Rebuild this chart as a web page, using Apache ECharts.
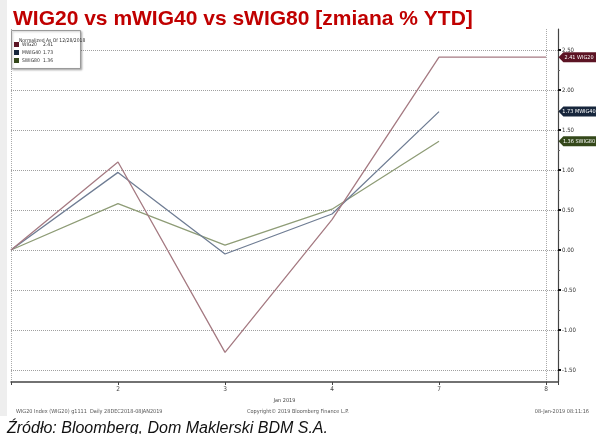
<!DOCTYPE html>
<html>
<head>
<meta charset="utf-8">
<script src="https://cdn.jsdelivr.net/npm/echarts@6/dist/echarts.min.js"></script>
<style>
html,body{margin:0;padding:0;background:#fff;}
#chart{width:596px;height:434px;}
</style>
</head>
<body>
<div id="chart"></div>
<script>
// ---- data ----
var categories = ['', '2', '3', '4', '7', '8'];
var seriesNames = ['WIG20', 'MWIG40', 'SWIG80'];
var wig20 = [0, 1.10, -1.28, 0.38, 2.41, 2.41];
var mwig40 = [0, 0.97, -0.05, 0.45, 1.73];
var swig80 = [0, 0.58, 0.06, 0.51, 1.36];
var lastValues = [2.41, 1.73, 1.36];
var yTicks = [-1.5, -1, -0.5, 0, 0.5, 1, 1.5, 2, 2.5];

// ---- style ----
var lineColors = ['#a57a82', '#6f7d94', '#8e9c76'];
var tagColors = ['#5c1424', '#17263c', '#34481a'];
var X_MAX = 5.112;
var FONT = '"Liberation Sans", Arial, sans-serif';
var SMALL = '"DejaVu Sans Condensed", "Liberation Sans Narrow", sans-serif';

function pairs(arr) { return arr.map(function (v, i) { return [i, v]; }); }

var seriesData = [wig20, mwig40, swig80];
var series = seriesData.map(function (d, k) {
  return {
    name: seriesNames[k],
    type: 'line',
    xAxisIndex: 2,
    yAxisIndex: 1,
    data: pairs(d),
    symbol: 'none',
    lineStyle: { color: lineColors[k], width: 1.3 },
    itemStyle: { color: lineColors[k] },
    z: 3 + (2 - k),
    animation: false,
    markPoint: {
      silent: true,
      animation: false,
      symbol: 'path://M0,5 L5,0 L40,0 L40,10 L5,10 Z',
      symbolSize: [39, 10],
      symbolKeepAspect: false,
      symbolOffset: [20, 0],
      itemStyle: { color: tagColors[k] },
      label: {
        show: true,
        position: 'inside',
        offset: [1, 0],
        color: '#fff',
        fontFamily: SMALL,
        fontSize: 5.5,
        formatter: function () { return lastValues[k].toFixed(2) + ' ' + seriesNames[k]; }
      },
      data: [{ coord: [X_MAX, lastValues[k]] }]
    }
  };
});

var chart = echarts.init(document.getElementById('chart'), null, { renderer: 'canvas' });
chart.setOption({
  backgroundColor: '#ffffff',
  animation: false,
  title: [
    {
      text: 'WIG20 vs mWIG40 vs sWIG80 [zmiana % YTD]',
      left: 8, top: 4,
      textStyle: { color: '#c00000', fontFamily: FONT, fontWeight: 'bold', fontSize: 21 }
    },
    {
      text: 'Normalized As Of 12/28/2018',
      left: 14, top: 33, z: 30,
      textStyle: { color: '#333', fontFamily: SMALL, fontWeight: 'normal', fontSize: 5 }
    },
    {
      text: 'WIG20 Index (WIG20) g1111  Daily 28DEC2018-08JAN2019',
      left: 11, top: 404,
      textStyle: { color: '#555', fontFamily: SMALL, fontWeight: 'normal', fontSize: 5.5 }
    },
    {
      text: 'Copyright\u00a9 2019 Bloomberg Finance L.P.',
      left: 'center', top: 404,
      textStyle: { color: '#555', fontFamily: SMALL, fontWeight: 'normal', fontSize: 5.5 }
    },
    {
      text: '08-Jan-2019 08:11:16',
      right: 2, top: 404,
      textStyle: { color: '#555', fontFamily: SMALL, fontWeight: 'normal', fontSize: 5.5 }
    },
    {
      text: '\u0179r\u00f3d\u0142o: Bloomberg, Dom Maklerski BDM S.A.',
      left: 2, top: 416,
      textStyle: { color: '#111', fontFamily: FONT, fontStyle: 'italic', fontWeight: 'normal', fontSize: 16 }
    }
  ],
  legend: {
    orient: 'vertical',
    left: 14, top: 42,
    z: 30,
    itemWidth: 5, itemHeight: 5, itemGap: 3,
    padding: 0,
    icon: 'rect',
    selectedMode: false,
    data: seriesNames.map(function (n, k) {
      return { name: n, itemStyle: { color: tagColors[k] }, lineStyle: { opacity: 0 } };
    }),
    formatter: function (name) {
      var k = seriesNames.indexOf(name);
      return '{n|' + name + '}{v|' + lastValues[k].toFixed(2) + '}';
    },
    textStyle: {
      fontFamily: SMALL, fontSize: 5, color: '#333', padding: [0, 0, 0, -2],
      rich: { n: { width: 21, fontSize: 5, fontFamily: SMALL, color: '#333' }, v: { fontSize: 5, fontFamily: SMALL, color: '#333' } }
    }
  },
  graphic: [
    {
      type: 'rect', left: 0, top: 0, z: -10, silent: true,
      shape: { width: 7, height: 416 },
      style: { fill: '#eeeeee' }
    },
    {
      type: 'rect', left: 11, top: 30, z: 5, silent: true,
      shape: { width: 69, height: 38 },
      style: { fill: '#ffffff', stroke: '#9a9a9a', lineWidth: 1, shadowBlur: 2, shadowColor: 'rgba(0,0,0,0.25)', shadowOffsetX: 1, shadowOffsetY: 1 }
    }
  ],
  grid: [
    { left: 11, right: 38, top: 29, bottom: 52 },
    { left: 11, right: 38, top: 50, bottom: 64 }
  ],
  xAxis: [
    {
      gridIndex: 0, type: 'value', min: 0, max: X_MAX, interval: 1, position: 'bottom',
      axisLine: { show: true, onZero: false, lineStyle: { color: '#444', width: 1.5 } },
      axisTick: { show: true, length: 3, inside: false, lineStyle: { color: '#444' } },
      axisLabel: {
        show: true, color: '#444', fontFamily: SMALL, fontSize: 6.5, margin: 4,
        formatter: function (v) { return categories[v] !== undefined ? categories[v] : ''; }
      },
      splitLine: { show: false },
      name: 'Jan 2019', nameLocation: 'middle', nameGap: 14,
      nameTextStyle: { color: '#444', fontFamily: SMALL, fontSize: 5.5 }
    },
    {
      gridIndex: 0, type: 'value', min: 0, max: X_MAX, interval: 5, position: 'top',
      axisLine: { show: false }, axisTick: { show: false }, axisLabel: { show: false },
      splitLine: { show: true, lineStyle: { color: '#aaa', type: [1, 1], width: 1 } }
    },
    {
      gridIndex: 1, type: 'value', min: 0, max: X_MAX, interval: 1,
      show: false
    }
  ],
  yAxis: [
    {
      gridIndex: 0, type: 'value', position: 'right', min: 0, max: 1,
      axisLine: { show: true, onZero: false, lineStyle: { color: '#444', width: 1.2 } },
      axisTick: { show: false }, axisLabel: { show: false }, splitLine: { show: false }
    },
    {
      gridIndex: 1, type: 'value', position: 'right', min: -1.5, max: 2.5, interval: 0.5,
      axisLine: { show: false, onZero: false },
      axisTick: { show: true, inside: false, length: 3, lineStyle: { color: '#111', width: 2 } },
      minorTick: { show: true, splitNumber: 2, length: 2, lineStyle: { color: '#666' } },
      axisLabel: {
        show: true, color: '#333', fontFamily: SMALL, fontSize: 6, margin: 4,
        formatter: function (v) {
          var i = yTicks.indexOf(Math.round(v * 100) / 100);
          return i >= 0 ? yTicks[i].toFixed(2) : '';
        }
      },
      splitLine: { show: true, lineStyle: { color: '#a0a0a0', type: [1, 1], width: 1 } }
    }
  ],
  series: series
});
</script>
</body>
</html>
